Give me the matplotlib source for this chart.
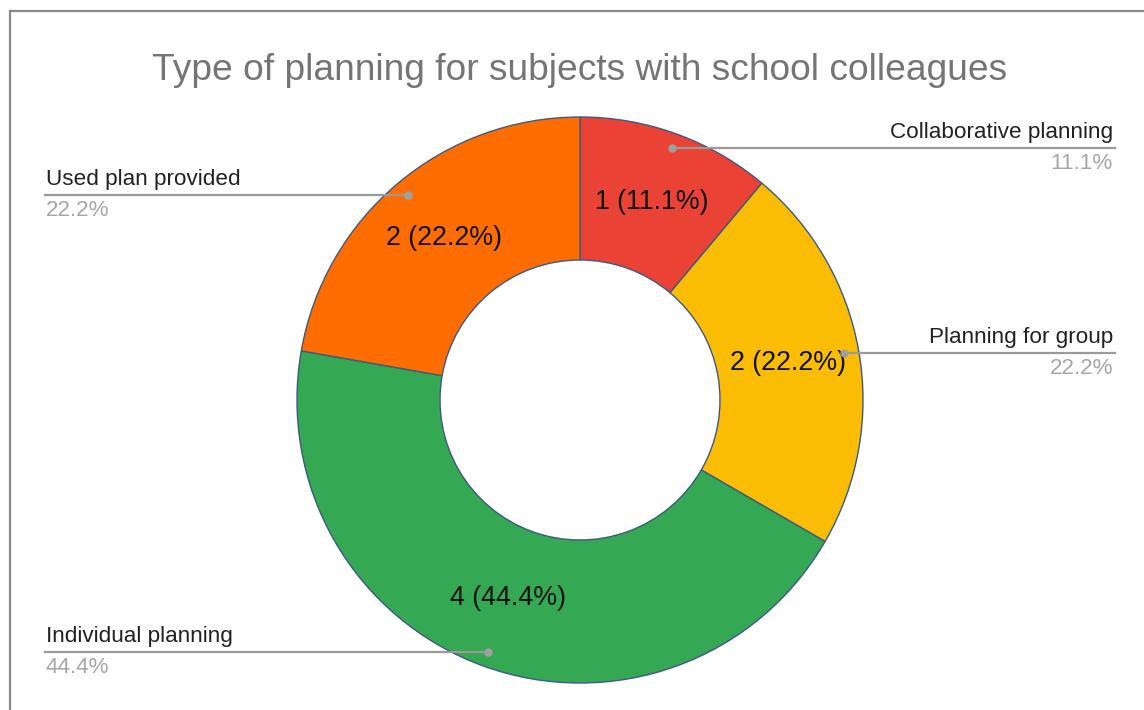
import numpy as np
import matplotlib.pyplot as plt
from matplotlib.patches import Rectangle

# Данные
categories = ["Collaborative planning", "Planning for group",
              "Individual planning", "Used plan provided"]
counts = [1, 2, 4, 2]
colors = ["#ea4335", "#fbbc04", "#34a853", "#ff6d01"]
title = "Type of planning for subjects with school colleagues"

plt.rcParams["font.family"] = ["Liberation Sans", "DejaVu Sans"]

W, H = 1144, 710
fig = plt.figure(figsize=(W / 100, H / 100), dpi=100)
ax = fig.add_axes([0, 0, 1, 1])
ax.set_xlim(0, W)
ax.set_ylim(0, H)
ax.set_aspect("equal")
ax.axis("off")

# рамка
fig.patches.append(Rectangle((10 / W, -0.1), 1.2, (H - 11) / H + 0.1,
                             transform=fig.transFigure, fill=False,
                             edgecolor="#8a8a8a", linewidth=1.6))

cx, cy, R = 580, H - 400, 283
total = sum(counts)


def fmt(p):
    return f"{round(p * total / 100)} ({p:.1f}%)"


wedges, _, autotexts = ax.pie(
    counts, colors=colors, startangle=90, counterclock=False,
    center=(cx, cy), radius=R, autopct=fmt, pctdistance=0.745,
    wedgeprops=dict(width=R - 140, edgecolor="#3c5a82", linewidth=1.0),
    textprops=dict(fontsize=19.3, color="#111111"),
)
ax.set_xlim(0, W)
ax.set_ylim(0, H)

# подписи с выносками
sides = ["right", "right", "left", "left"]
for w, name, n, side in zip(wedges, categories, counts, sides):
    ang = np.deg2rad((w.theta1 + w.theta2) / 2)
    px = cx + 268 * np.cos(ang)
    py = cy + 268 * np.sin(ang)
    pct = f"{n / total * 100:.1f}%"
    if side == "right":
        x_end, ha = 1115, "right"
    else:
        x_end, ha = 45, "left"
    ax.plot([px, x_end], [py, py], color="#9a9a9a", linewidth=1.6, zorder=5)
    ax.plot(px, py, "o", color="#a0a0a0", markersize=5, zorder=6)
    tx = x_end - 2 if side == "right" else x_end + 1
    ax.text(tx, py + 5, name, ha=ha, va="bottom", fontsize=16.2,
            color="#222222")
    ax.text(tx, py - 5, pct, ha=ha, va="top", fontsize=16.2, color="#a6a6a6")

fig.text(580 / W, 1 - 70 / H, title, ha="center", va="center",
         fontsize=26.7, color="#757575")

fig.savefig("out.png", dpi=100)
